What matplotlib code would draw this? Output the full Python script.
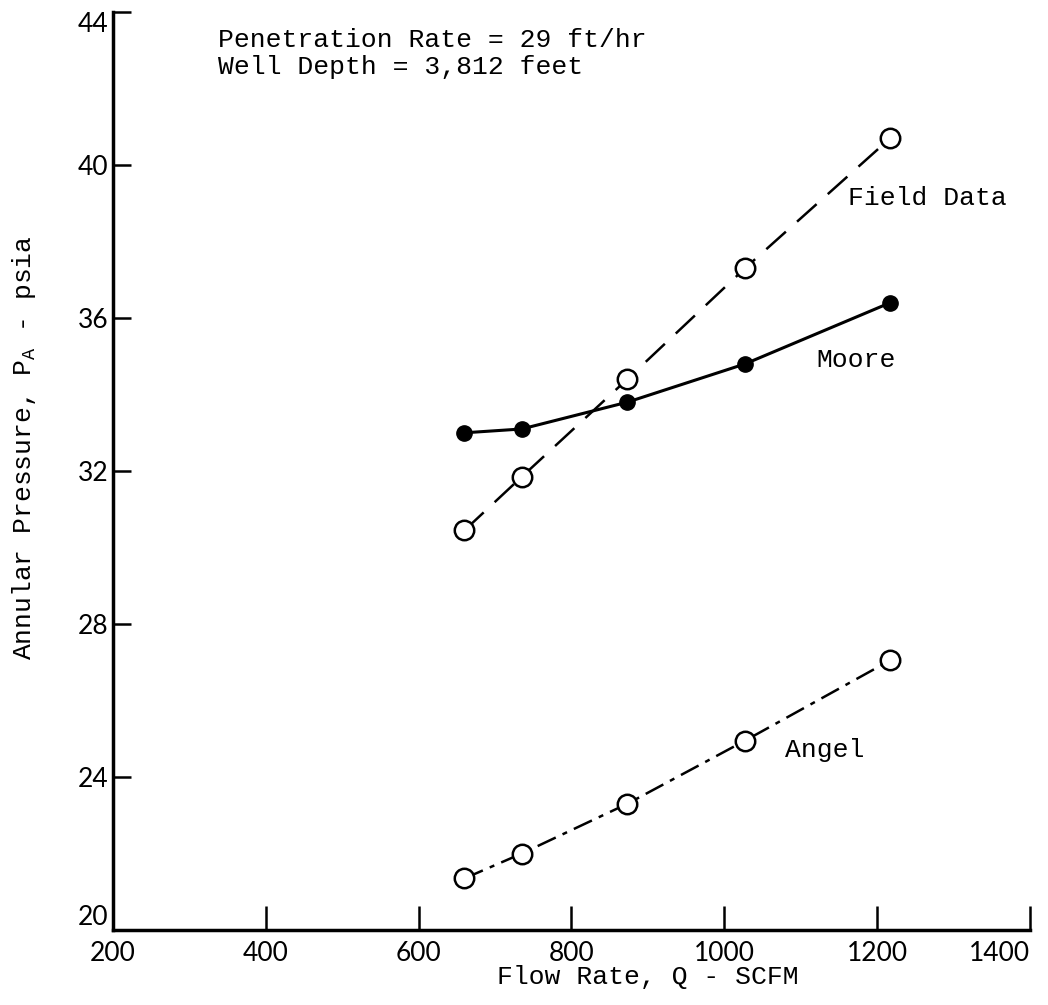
import matplotlib
matplotlib.use('Agg')
import matplotlib.pyplot as plt

# Flow rate (SCFM) and annular pressure (psia)
flow_rate = [660, 735, 873, 1027, 1217]
field_data = [30.45, 31.85, 34.4, 37.3, 40.7]
moore = [33.0, 33.1, 33.8, 34.8, 36.4]
angel = [21.35, 22.0, 23.3, 24.95, 27.05]

x_ticks = [200, 400, 600, 800, 1000, 1200, 1400]
y_ticks = [20, 24, 28, 32, 36, 40, 44]

mono = 'Liberation Mono'
tick_font = 'Lato'

fig = plt.figure(figsize=(10.48, 10.05), dpi=100)
ax = fig.add_axes([0.1078, 0.0746, 0.875, 0.9134])

# Field data - long dashes, open circles
ax.plot(flow_rate, field_data, color='black', lw=1.8, dashes=(10.5, 6),
        marker='o', ms=14, mfc='white', mec='black', mew=1.8, zorder=3)
# Moore - solid line, filled circles
ax.plot(flow_rate, moore, color='black', lw=2.2, marker='o', ms=11,
        mfc='black', mec='black', zorder=3)
# Angel - long/short dashes, open circles
ax.plot(flow_rate, angel, color='black', lw=1.8, dashes=(8, 3, 2, 3),
        marker='o', ms=14, mfc='white', mec='black', mew=1.8, zorder=3)

ax.set_xlim(200, 1400)
ax.set_ylim(20, 44)
ax.set_xticks(x_ticks)
ax.set_yticks(y_ticks)

for s in ['top', 'right']:
    ax.spines[s].set_visible(False)
for s in ['left', 'bottom']:
    ax.spines[s].set_linewidth(2.5)

ax.tick_params(axis='x', direction='in', length=17, width=1.8, pad=8,
               labelsize=19, labelcolor='black')
ax.tick_params(axis='y', direction='in', length=13, width=1.8, pad=3,
               labelsize=19, labelcolor='black')
for lab in ax.get_xticklabels() + ax.get_yticklabels():
    lab.set_family(tick_font)
xl = ax.get_xticklabels()
xl[-1].set_ha('right')
xl[-1].set_x(1410)
yl = ax.get_yticklabels()
yl[0].set_va('bottom')
yl[-1].set_va('top')

ax.set_xlabel('Flow Rate, Q - SCFM', family=mono, fontsize=19)
ax.xaxis.set_label_coords(0.583, -0.038)
ax.set_ylabel(r'Annular Pressure, P$_\mathregular{A}$ - psia', family=mono,
              fontsize=19)
ax.yaxis.set_label_coords(-0.082, 0.525)

# curve labels
ax.text(1162, 39.14, 'Field Data', family=mono, fontsize=19, va='center')
ax.text(1121, 34.9, 'Moore', family=mono, fontsize=19, va='center')
ax.text(1079, 24.7, 'Angel', family=mono, fontsize=19, va='center')

ax.text(337, 43.27, 'Penetration Rate = 29 ft/hr', family=mono,
        fontsize=19, va='center')
ax.text(337, 42.56, 'Well Depth = 3,812 feet', family=mono,
        fontsize=19, va='center')

fig.savefig('out.png', dpi=100)
